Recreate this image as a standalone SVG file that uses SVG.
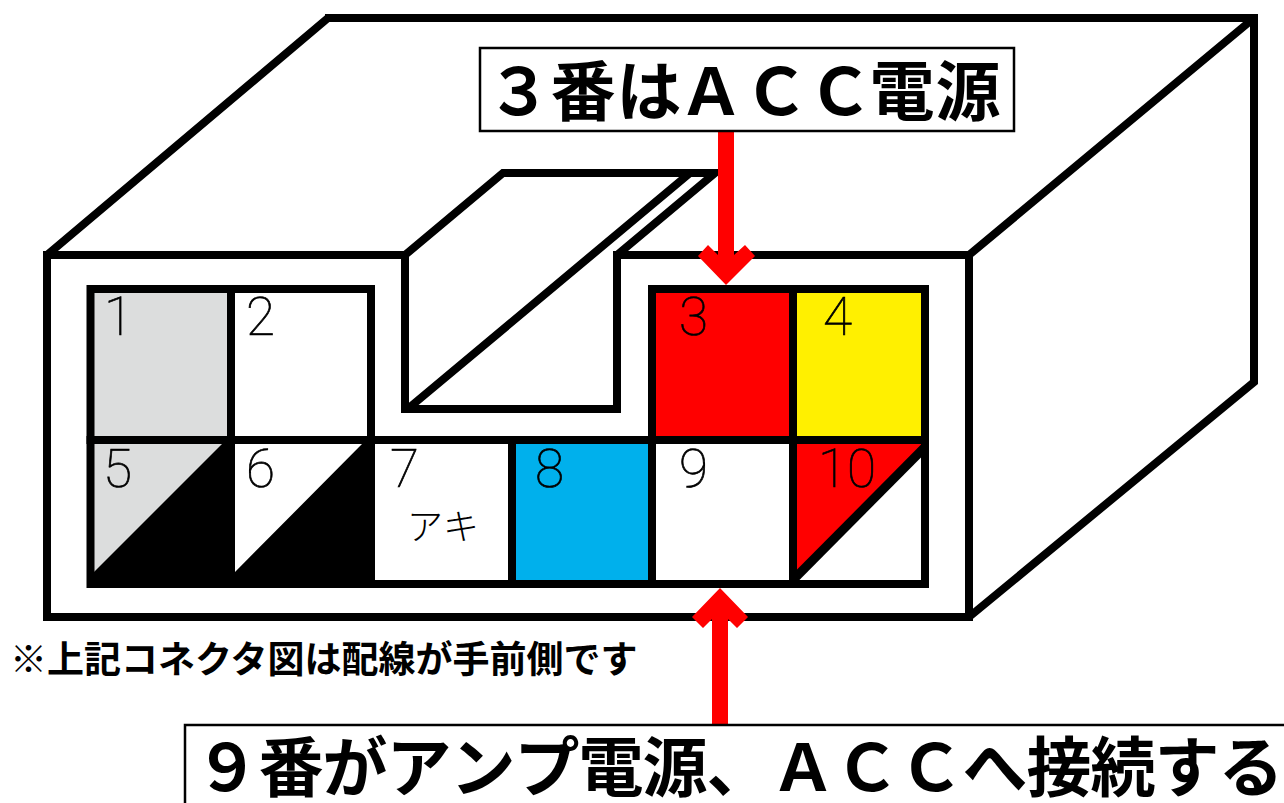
<svg xmlns="http://www.w3.org/2000/svg" width="1284" height="803" viewBox="0 0 1284 803">
<style>
.o{fill:none;stroke:#000;stroke-width:8;stroke-linejoin:miter}
.c{stroke:#000;stroke-width:8}
.n{font-family:"Roboto","Liberation Sans",sans-serif;font-weight:100;font-size:53px;fill:#000;stroke:#000;stroke-width:.7}
.a{font-family:"Noto Sans CJK JP",sans-serif;font-weight:300;font-size:36px;fill:#000}
.t{font-family:"Noto Sans CJK JP",sans-serif;font-weight:700;font-size:65px;fill:#000;text-anchor:middle}
.s{font-family:"Noto Sans CJK JP",sans-serif;font-weight:700;font-size:37px;fill:#000}
.b{fill:#fff;stroke:#000;stroke-width:2.5}
</style>
<rect width="1284" height="803" fill="#fff"/>
<g id="housing">
<path class="o" d="M47 255L328 18M325 18H1258M969 255L1254 18M1254 14V382L969 617M43 617H973M47 621V251M43 255H405V409H617V255H973M969 251V621"/>
<path class="o" d="M405 255L503 173H715L617 255M410 407L690 173" stroke-miterlimit="3"/>
</g>
<g id="cell-1"><rect class="c" x="90.500" y="289" width="140.500" height="151" fill="#dcdddd"/><text class="n" x="104" y="335">1</text></g>
<g id="cell-2"><rect class="c" x="231" y="289" width="140" height="151" fill="#fff"/><text class="n" x="246" y="335">2</text></g>
<g id="cell-3"><rect class="c" x="652" y="289" width="141" height="151" fill="#f00"/><text class="n" x="679" y="335">3</text></g>
<g id="cell-4"><rect class="c" x="793" y="289" width="132" height="151" fill="#fff000"/><text class="n" x="823" y="335">4</text></g>
<g id="cell-5"><rect class="c" x="90.500" y="440" width="140.500" height="144" fill="#dcdddd"/><path d="M222 444H231V584H94V572Z"/><text class="n" x="103" y="487">5</text></g>
<g id="cell-6"><rect class="c" x="231" y="440" width="140" height="144" fill="#fff"/><path d="M362 444H371V584H231V576L235 572Z"/><text class="n" x="246" y="487">6</text></g>
<g id="cell-7"><rect class="c" x="371" y="440" width="141" height="144" fill="#fff"/><text class="n" x="390" y="487">7</text><text class="a" x="407" y="540">アキ</text></g>
<g id="cell-8"><rect class="c" x="512" y="440" width="140" height="144" fill="#00b0ec"/><text class="n" x="535" y="487">8</text></g>
<g id="cell-9"><rect class="c" x="652" y="440" width="141" height="144" fill="#fff"/><text class="n" x="679" y="487">9</text></g>
<g id="cell-10"><rect class="c" x="793" y="440" width="132" height="144" fill="#fff"/><path d="M797 444H921V447L797 573Z" fill="#f00"/><path d="M925 447L795 578" stroke="#000" stroke-width="9" fill="none"/><text class="n" x="818" y="487">10</text></g>
<g id="connectors" fill="#f00">
<path d="M718 130H734V255L745 245L755 256L726 285L698 256L708 245L718 255Z"/>
<path d="M712 725H728V619L737 628L748 617L720 588L692 617L703 628L712 619Z"/>
</g>
<g id="label-top"><rect class="b" x="480" y="48" width="534" height="83"/><text class="t" x="519 583 649 711 776 840 902 968" y="115">３番はＡＣＣ電源</text></g>
<g id="label-bottom"><rect class="b" x="185" y="725" width="1110" height="90"/><text class="t" x="227 291 355 419 483 547 611 675 739 803 867 931 995 1059 1123 1187 1251" y="791">９番がアンプ電源、ＡＣＣへ接続する</text></g>
<g id="note"><text class="s" x="10" y="673">※上記コネクタ図は配線が手前側です</text></g>
</svg>
